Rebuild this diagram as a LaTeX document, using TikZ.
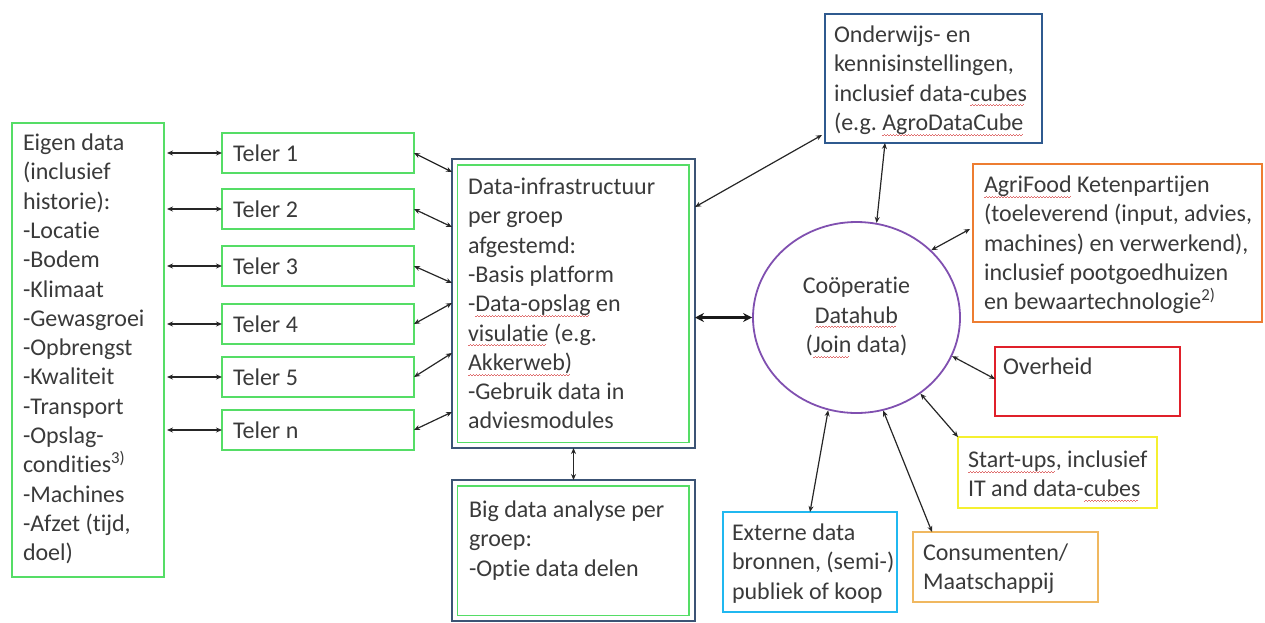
\documentclass[tikz,border=0pt]{standalone}
\usepackage{fontspec}
\setmainfont{Carlito}[Ligatures={NoCommon}]
\usetikzlibrary{shapes.geometric,arrows.meta}
\frenchspacing
\definecolor{gr}{HTML}{55DD66}
\definecolor{dblue}{HTML}{3C5475}
\definecolor{oblue}{HTML}{2F5A8F}
\definecolor{purp}{HTML}{8050B0}
\definecolor{orng}{HTML}{ED7D31}
\definecolor{redb}{HTML}{E0202A}
\definecolor{yelb}{HTML}{F5F030}
\definecolor{gold}{HTML}{F0B860}
\definecolor{cyanb}{HTML}{20B8F0}
\definecolor{txt}{HTML}{3A3A3A}
\definecolor{splc}{HTML}{E07070}
\newsavebox\splbox
\newcommand\spl[1]{\sbox\splbox{#1}\rlap{\color{splc}\hbox to \wd\splbox{\leaders\hbox{\rule[-5pt]{1.5pt}{0.8pt}\rule[-4pt]{1.5pt}{0.8pt}}\hfill}}\usebox\splbox}
\newcommand\tl[1]{\makebox[170pt][l]{#1}}
\tikzset{
  bx/.style={draw, line width=1.8pt, inner sep=0pt, outer sep=0pt, anchor=north west},
  tx/.style={anchor=north west, inner sep=0pt, outer sep=0pt, align=left, text=txt, font=\fontsize{24}{29.3}\selectfont\frenchspacing},
  telerbox/.style={bx, draw=gr, minimum width=192pt, minimum height=40pt, inner xsep=11pt, text=txt, font=\fontsize{24}{29.3}\selectfont},
  arr/.style={{Stealth[length=6pt,width=5pt]}-{Stealth[length=6pt,width=5pt]}, line width=1.2pt, draw=black!85},
  bigarr/.style={{Stealth[length=9pt,width=9pt]}-{Stealth[length=9pt,width=9pt]}, line width=2.6pt, draw=black!90}
}
\begin{document}
\begin{tikzpicture}[x=1pt,y=-1pt]
\useasboundingbox (0,0) rectangle (1265,622);
% left data box
\node[bx, draw=gr, minimum width=152pt, minimum height=454pt] (eigen) at (12,123) {};
\node[tx] (eigent) at (23,130) {\strut Eigen data\\(inclusief\\historie):\\-Locatie\\-Bodem\\-Klimaat\\-Gewasgroei\\-Opbrengst\\-Kwaliteit\\-Transport\\-Opslag-\\condities\textsuperscript{3)}\\-Machines\\-Afzet (tijd,\\doel)};
% telers
\node[telerbox] (t1) at (222,133) {\tl{Teler 1}};
\node[telerbox] (t2) at (222,189) {\tl{Teler 2}};
\node[telerbox] (t3) at (222,246) {\tl{Teler 3}};
\node[telerbox] (t4) at (222,304) {\tl{Teler 4}};
\node[telerbox] (t5) at (222,357) {\tl{Teler 5}};
\node[telerbox] (tn) at (222,410) {\tl{Teler n}};
% central box
\node[bx, draw=dblue, minimum width=243pt, minimum height=289pt] (central) at (452,159) {};
\draw[draw=gr, line width=1.8pt] ([shift={(5.5pt,-6pt)}]central.north west) rectangle ([shift={(-6pt,5.5pt)}]central.south east);
\node[tx] (centralt) at (468,174) {\strut Data-infrastructuur\\per groep\\afgestemd:\\-Basis platform\\-\spl{Data-opslag} en\\\spl{visulatie} (e.g.\\\spl{Akkerweb)}\\-Gebruik data in\\adviesmodules};
% big data box
\node[bx, draw=dblue, minimum width=243pt, minimum height=141pt] (big) at (452,480) {};
\draw[draw=gr, line width=1.8pt] ([shift={(5.5pt,-6pt)}]big.north west) rectangle ([shift={(-6pt,5.5pt)}]big.south east);
\node[tx] (bigt) at (469,497) {\strut Big data analyse per\\groep:\\-Optie data delen};
% hub
\node[draw=purp, line width=1.8pt, ellipse, minimum width=207pt, minimum height=191pt, inner sep=0pt, align=center, text=txt, font=\fontsize{24}{29.3}\selectfont] (hub) at (856.5,317.5) {Coöperatie\\\spl{Datahub}\\(\spl{Join} data)};
% right boxes
\node[bx, draw=oblue, minimum width=217pt, minimum height=129pt] (onder) at (825,14) {};
\node[tx] (ondert) at (834,22) {\strut Onderwijs- en\\kennisinstellingen,\\inclusief data-\spl{cubes}\\(e.g. \spl{AgroDataCube}};
\node[bx, draw=orng, minimum width=289pt, minimum height=158pt] (agri) at (973,164) {};
\node[tx] (agrit) at (984,172) {\strut \spl{AgriFood} Ketenpartijen\\(toeleverend (input, advies,\\machines) en verwerkend),\\inclusief pootgoedhuizen\\en bewaartechnologie\textsuperscript{2)}};
\node[bx, draw=redb, minimum width=185pt, minimum height=69pt] (over) at (995,347) {};
\node[tx] (overt) at (1003,354) {\strut Overheid};
\node[bx, draw=yelb, minimum width=199pt, minimum height=71pt] (start) at (958,437) {};
\node[tx] (startt) at (968,447) {\strut \spl{Start-ups}, inclusief\\IT and data-\spl{cubes}};
\node[bx, draw=gold, minimum width=185pt, minimum height=70pt] (cons) at (913,532) {};
\node[tx] (const) at (923,540) {\strut Consumenten/\\Maatschappij};
\node[bx, draw=cyanb, minimum width=174pt, minimum height=100pt] (ext) at (723,512) {};
\node[tx] (extt) at (732,520) {\strut Externe data\\bronnen, (semi-)\\publiek of koop};
% connectors: eigen data - telers
\foreach \t in {t1,t2,t3,t4,t5,tn}{
  \draw[arr] ([xshift=3pt]eigen.east |- \t.west) -- (\t.west);
}
% telers - central
\draw[arr] (t1.east) -- ([yshift=-13pt]central.north west);
\draw[arr] (t2.east) -- ([yshift=-68pt]central.north west);
\draw[arr] (t3.east) -- ([yshift=-124pt]central.north west);
\draw[arr] (t4.east) -- ([yshift=-144pt]central.north west);
\draw[arr] (t5.east) -- ([yshift=-194pt]central.north west);
\draw[arr] (tn.east) -- ([yshift=-253pt]central.north west);
% central - big data
\draw[arr] (central.south) -- (big.north);
% central - hub
\draw[bigarr] (central.east |- hub.west) -- (hub.west);
% central - onderwijs
\draw[arr] ([yshift=-48pt]central.north east) -- ([shift={(-3pt,8pt)}]onder.south west);
% hub - others
\draw[arr] (hub.78) -- ([xshift=60pt]onder.south west);
\draw[arr] (hub.42) -- ([shift={(-3pt,-65pt)}]agri.north west);
\draw[arr] (hub.-22) -- ([yshift=-32pt]over.north west);
\draw[arr] (hub.-50) -- (start.north west);
\draw[arr] (hub.-74) -- ([xshift=19pt]cons.north west);
\draw[arr] (hub.-107) -- (ext.north);
\end{tikzpicture}
\end{document}
